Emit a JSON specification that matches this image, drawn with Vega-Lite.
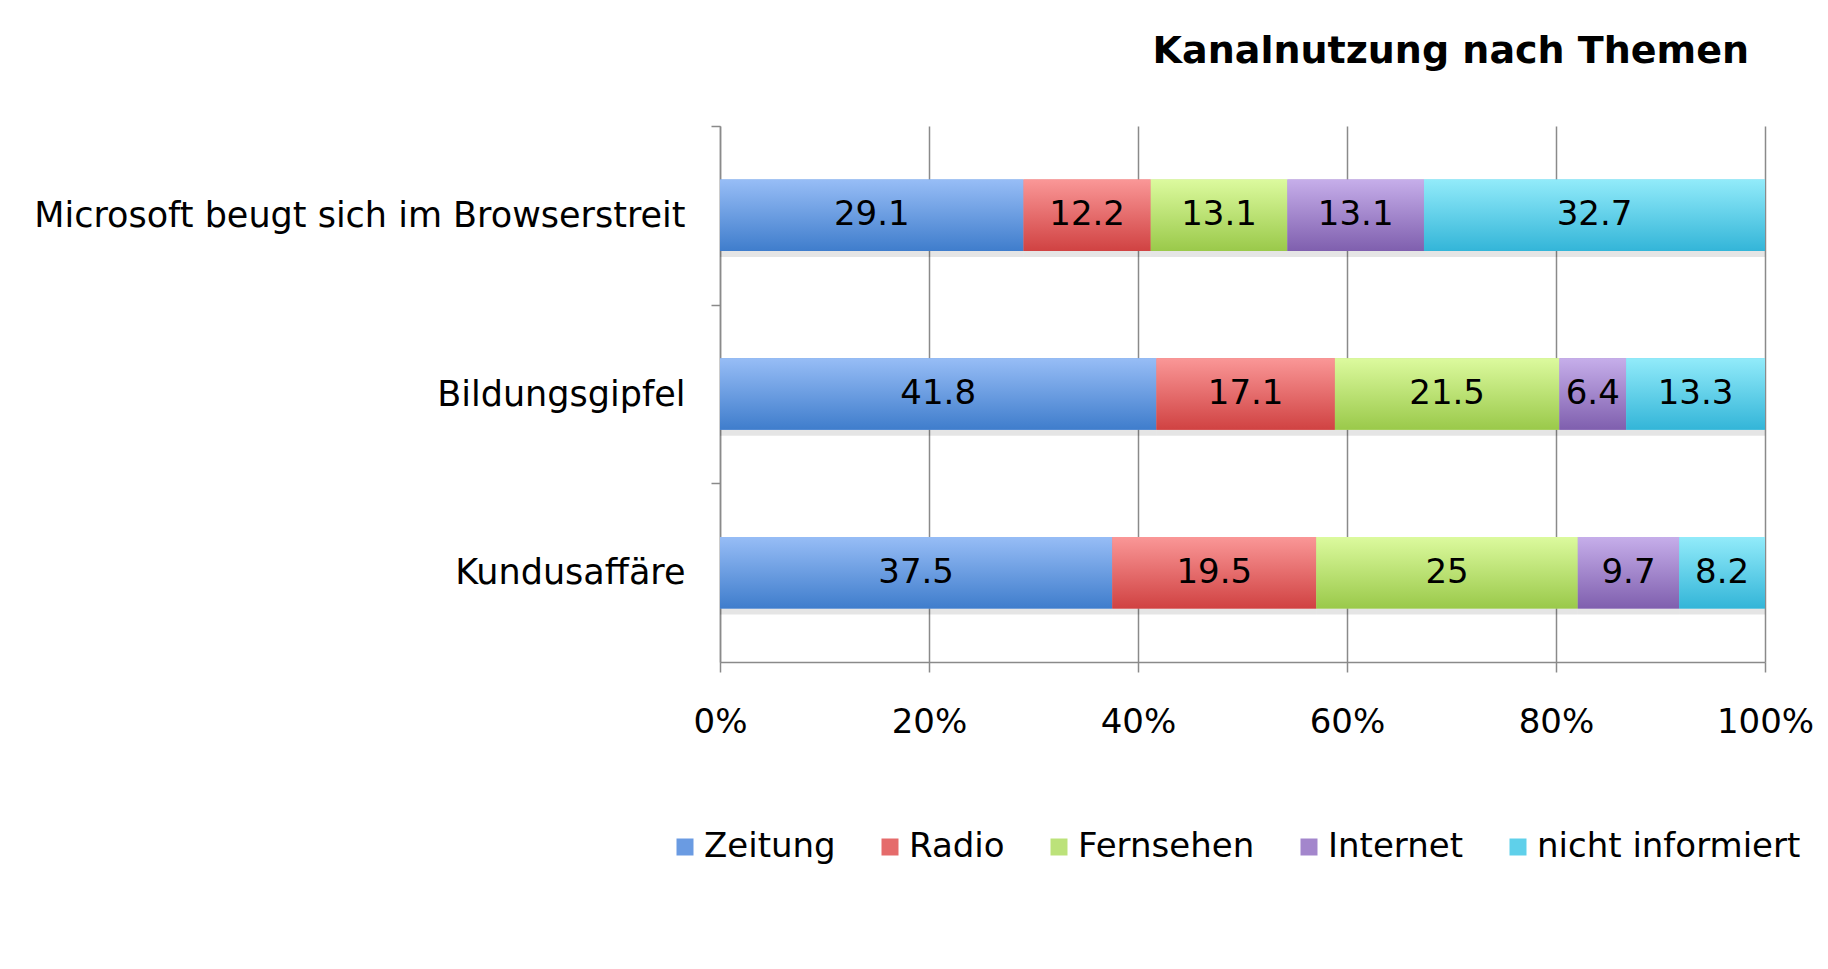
{
  "$schema": "https://vega.github.io/schema/vega-lite/v6.json",
  "autosize": {"type": "none"},
  "width": 1045,
  "height": 536,
  "padding": {"left": 720, "top": 126, "right": 63, "bottom": 307},
  "background": "white",
  "config": {
    "font": "DejaVu Sans",
    "view": {"stroke": null},
    "axis": {"labelFont": "DejaVu Sans", "labelColor": "#000000", "labelFontSize": 34}
  },
  "title": {
    "text": "Kanalnutzung nach Themen",
    "anchor": "end",
    "frame": "group",
    "fontSize": 38,
    "fontWeight": "bold",
    "font": "DejaVu Sans",
    "color": "#000000",
    "offset": 54,
    "dx": -16
  },
  "data": {
    "values": [
      {"thema": "Microsoft beugt sich im Browserstreit", "kanal": "Zeitung", "k": 1, "wert": 29.1},
      {"thema": "Microsoft beugt sich im Browserstreit", "kanal": "Radio", "k": 2, "wert": 12.2},
      {"thema": "Microsoft beugt sich im Browserstreit", "kanal": "Fernsehen", "k": 3, "wert": 13.1},
      {"thema": "Microsoft beugt sich im Browserstreit", "kanal": "Internet", "k": 4, "wert": 13.1},
      {"thema": "Microsoft beugt sich im Browserstreit", "kanal": "nicht informiert", "k": 5, "wert": 32.7},
      {"thema": "Bildungsgipfel", "kanal": "Zeitung", "k": 1, "wert": 41.8},
      {"thema": "Bildungsgipfel", "kanal": "Radio", "k": 2, "wert": 17.1},
      {"thema": "Bildungsgipfel", "kanal": "Fernsehen", "k": 3, "wert": 21.5},
      {"thema": "Bildungsgipfel", "kanal": "Internet", "k": 4, "wert": 6.4},
      {"thema": "Bildungsgipfel", "kanal": "nicht informiert", "k": 5, "wert": 13.3},
      {"thema": "Kundusaffäre", "kanal": "Zeitung", "k": 1, "wert": 37.5},
      {"thema": "Kundusaffäre", "kanal": "Radio", "k": 2, "wert": 19.5},
      {"thema": "Kundusaffäre", "kanal": "Fernsehen", "k": 3, "wert": 25},
      {"thema": "Kundusaffäre", "kanal": "Internet", "k": 4, "wert": 9.7},
      {"thema": "Kundusaffäre", "kanal": "nicht informiert", "k": 5, "wert": 8.2}
    ]
  },
  "transform": [
    {"stack": "wert", "groupby": ["thema"], "sort": [{"field": "k", "order": "ascending"}], "as": ["x0", "x1"], "offset": "normalize"}
  ],
  "encoding": {
    "y": {
      "field": "thema",
      "type": "nominal",
      "sort": ["Microsoft beugt sich im Browserstreit", "Bildungsgipfel", "Kundusaffäre"],
      "scale": {"paddingInner": 0.6, "paddingOuter": 0.3},
      "axis": {
        "title": null,
        "tickOffset": -89.33,
        "labelOffset": 89.33,
        "grid": false,
        "domainColor": "#8a8a8a",
        "domainWidth": 1.5,
        "tickColor": "#8a8a8a",
        "tickWidth": 1.5,
        "tickSize": 9,
        "labelPadding": 26,
        "labelFontSize": 35,
        "labelLimit": 800
      }
    },
    "x": {
      "field": "x0",
      "type": "quantitative",
      "scale": {"domain": [0, 1], "nice": false},
      "axis": {
        "title": null,
        "format": "%",
        "values": [0, 0.2, 0.4, 0.6, 0.8, 1],
        "grid": true,
        "gridColor": "#8a8a8a",
        "gridWidth": 1.5,
        "domainColor": "#8a8a8a",
        "domainWidth": 1.5,
        "tickColor": "#8a8a8a",
        "tickWidth": 1.5,
        "tickSize": 10,
        "labelPadding": 33,
        "labelFlush": false
      }
    },
    "x2": {"field": "x1"}
  },
  "layer": [
    {
      "mark": {"type": "bar", "color": "#000000", "opacity": 0.1},
      "encoding": {"yOffset": {"value": 6}}
    },
    {
      "mark": {"type": "bar"},
      "encoding": {
        "color": {
          "field": "kanal",
          "type": "nominal",
          "sort": ["Zeitung", "Radio", "Fernsehen", "Internet", "nicht informiert"],
          "scale": {
            "domain": ["Zeitung", "Radio", "Fernsehen", "Internet", "nicht informiert"],
            "range": ["#6a9be2", "#e56b6b", "#bce27a", "#a386cc", "#5fd0ea"]
          },
          "legend": {
            "title": null,
            "orient": "none",
            "direction": "horizontal",
            "legendX": -52,
            "legendY": 704,
            "padding": 0,
            "symbolType": "square",
            "symbolSize": 289,
            "symbolStrokeWidth": 0,
            "labelFontSize": 34,
            "labelFont": "DejaVu Sans",
            "labelColor": "#000000",
            "labelOffset": 2,
            "columnPadding": 37,
            "labelLimit": 600
          }
        }
      }
    },
    {
      "transform": [{"filter": {"field": "kanal", "equal": "Zeitung"}}],
      "mark": {"type": "bar", "color": {"gradient": "linear", "x1": 0, "y1": 0, "x2": 0, "y2": 1, "stops": [{"offset": 0, "color": "#97bdf6"}, {"offset": 1, "color": "#3f7dcc"}]}}
    },
    {
      "transform": [{"filter": {"field": "kanal", "equal": "Radio"}}],
      "mark": {"type": "bar", "color": {"gradient": "linear", "x1": 0, "y1": 0, "x2": 0, "y2": 1, "stops": [{"offset": 0, "color": "#fa9797"}, {"offset": 1, "color": "#d04242"}]}}
    },
    {
      "transform": [{"filter": {"field": "kanal", "equal": "Fernsehen"}}],
      "mark": {"type": "bar", "color": {"gradient": "linear", "x1": 0, "y1": 0, "x2": 0, "y2": 1, "stops": [{"offset": 0, "color": "#dcfa9e"}, {"offset": 1, "color": "#9ac94a"}]}}
    },
    {
      "transform": [{"filter": {"field": "kanal", "equal": "Internet"}}],
      "mark": {"type": "bar", "color": {"gradient": "linear", "x1": 0, "y1": 0, "x2": 0, "y2": 1, "stops": [{"offset": 0, "color": "#c6aeea"}, {"offset": 1, "color": "#7f5fae"}]}}
    },
    {
      "transform": [{"filter": {"field": "kanal", "equal": "nicht informiert"}}],
      "mark": {"type": "bar", "color": {"gradient": "linear", "x1": 0, "y1": 0, "x2": 0, "y2": 1, "stops": [{"offset": 0, "color": "#92ebfa"}, {"offset": 1, "color": "#33b5d8"}]}}
    },
    {
      "mark": {"type": "text", "fontSize": 34, "font": "DejaVu Sans", "color": "#000000", "baseline": "middle", "align": "center"},
      "encoding": {
        "x": {"field": "wert", "type": "quantitative", "stack": "normalize", "bandPosition": 0.5},
        "x2": null,
        "detail": {"field": "kanal"},
        "order": {"field": "k", "type": "quantitative"},
        "text": {"field": "wert", "type": "nominal"}
      }
    }
  ]
}
